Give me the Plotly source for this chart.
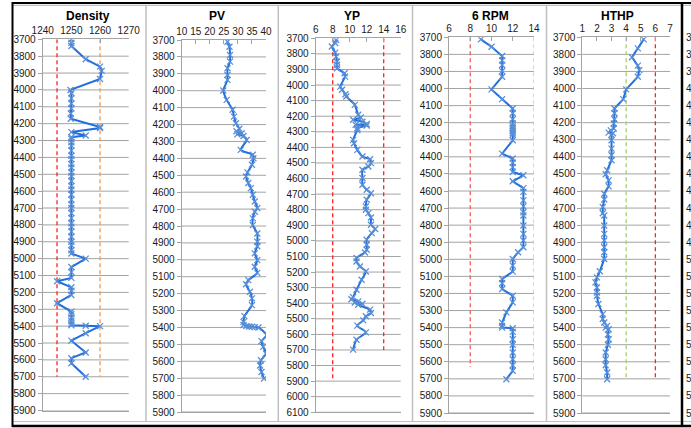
import plotly.graph_objects as go

# ---------------- data ----------------
depth_ticks_start = 3700

density_depth = [3700, 3720, 3740, 3818, 3862, 3887, 3935, 4000, 4020, 4050, 4080, 4110, 4140, 4171,
                 4220, 4226, 4250, 4270, 4280, 4290, 4310, 4330, 4360, 4390, 4410, 4440, 4460, 4490,
                 4510, 4540, 4570, 4590, 4620, 4650, 4680, 4700, 4730, 4760, 4790, 4810, 4840, 4870,
                 4900, 4920, 4950, 4970, 5000, 5050, 5080, 5114, 5134, 5170, 5190, 5215, 5264, 5314,
                 5330, 5350, 5370, 5385, 5395, 5398, 5400, 5442, 5486, 5556, 5590, 5620, 5700]
density_val = [1250, 1250, 1250, 1255, 1260, 1260.6, 1260, 1249.7, 1250, 1250, 1250, 1250, 1249.8, 1249.8,
               1260, 1260, 1250, 1255, 1250, 1250, 1250, 1250, 1250, 1250, 1250, 1250, 1250, 1250,
               1250, 1250, 1250, 1250, 1250, 1250, 1250, 1250, 1250, 1250, 1250, 1250, 1250, 1250,
               1250, 1250, 1250, 1250, 1255, 1250, 1250, 1250, 1245, 1250, 1250, 1250, 1245, 1250,
               1250, 1250, 1250, 1250, 1250, 1255, 1260, 1255, 1250, 1255, 1250, 1250, 1255]

pv_depth = [3710, 3740, 3789, 3828, 3867, 3907, 3936, 3999, 4054, 4113, 4153, 4192, 4225, 4240, 4251,
            4258, 4268, 4291, 4350, 4379, 4399, 4438, 4483, 4507, 4546, 4576, 4615, 4655, 4694, 4716,
            4755, 4795, 4844, 4893, 4920, 4962, 5002, 5041, 5077, 5120, 5144, 5189, 5228, 5268, 5333,
            5367, 5385, 5392, 5394, 5396, 5398, 5400, 5446, 5481, 5515, 5554, 5594, 5625, 5663, 5702]
pv_val = [26.3, 27, 27.2, 27.2, 26.3, 26.3, 26.3, 24.8, 26, 28.1, 28.6, 29.3, 30.5, 29.5, 31.4,
          29.8, 32, 33.1, 31, 35.3, 35.5, 35, 33.4, 32.9, 33.7, 34.6, 35.3, 36, 36.9, 36,
          35.3, 35.3, 36.9, 36.9, 36.9, 36, 36.9, 36, 36.9, 33.7, 32.9, 34.3, 35, 35, 32.3,
          32, 32, 33, 34, 35, 36, 37.3, 40.2, 38.4, 39, 40, 38.2, 37.9, 38.4, 39.3]

yp_depth = [3711, 3730, 3753, 3792, 3818, 3850, 3870, 3892, 3924, 3946, 4010, 4030, 4059, 4074, 4127,
            4191, 4208, 4223, 4235, 4249, 4255, 4260, 4277, 4288, 4352, 4373, 4416, 4459, 4476, 4501,
            4523, 4544, 4597, 4640, 4672, 4694, 4736, 4779, 4800, 4822, 4850, 4896, 4924, 4950, 4993,
            5025, 5057, 5074, 5110, 5132, 5164, 5196, 5249, 5314, 5361, 5375, 5388, 5395, 5403, 5410,
            5441, 5463, 5484, 5510, 5544, 5587, 5634, 5698]
yp_val = [8.4, 8.3, 7.9, 8.3, 8.4, 8.5, 8.5, 8.5, 9.4, 9.45, 8.9, 9.1, 9.5, 9.6, 10.6,
          11, 11.3, 10.4, 11.5, 12, 10.7, 12, 10.9, 10.9, 10.4, 10.5, 10.9, 11.5, 12.4, 12.5,
          12.2, 11.5, 11.5, 11.5, 12, 12.5, 12, 11.9, 11.9, 12.2, 12.5, 12.5, 13, 12.6, 12,
          12, 12, 11.8, 10.8, 10.8, 11.2, 11.9, 11.4, 10.8, 10.4, 10.2, 11, 10.6, 11.5, 11,
          12.4, 12.5, 11.9, 11.6, 10.9, 11.9, 10.8, 10.4]

rpm_depth = [3712, 3755, 3810, 3835, 3862, 3898, 3931, 4005, 4062, 4117, 4145, 4180, 4205, 4220, 4230,
             4240, 4250, 4260, 4270, 4303, 4381, 4410, 4435, 4460, 4489, 4508, 4543, 4583, 4605, 4655,
             4690, 4725, 4743, 4802, 4851, 4890, 4929, 4959, 4998, 5037, 5072, 5115, 5140, 5174, 5213,
             5252, 5311, 5370, 5390, 5400, 5404, 5425, 5468, 5500, 5546, 5585, 5620, 5653, 5702]
rpm_val = [9, 10, 11, 11, 11, 11, 11, 10, 11, 12, 12, 12, 12, 12, 12,
           12, 12, 12, 12, 12, 11, 12, 12, 12, 12, 13, 12, 13, 13, 13,
           13, 13, 13, 13, 13, 13, 13, 12.5, 12, 12, 12, 11, 11, 11, 12,
           12, 11.4, 11, 11, 11, 12, 12, 12, 12, 12, 12, 12, 12, 11.4]

hthp_depth = [3712, 3765, 3817, 3866, 3892, 3931, 4005, 4062, 4117, 4145, 4180, 4205, 4234, 4245, 4258,
              4262, 4270, 4303, 4352, 4391, 4420, 4479, 4502, 4538, 4573, 4616, 4650, 4694, 4730, 4743,
              4802, 4851, 4890, 4929, 4959, 4998, 5070, 5106, 5135, 5165, 5194, 5213, 5262, 5321, 5350,
              5370, 5390, 5400, 5410, 5440, 5468, 5500, 5546, 5585, 5620, 5663, 5702]
hthp_val = [5.2, 4.8, 4.4, 4.8, 4.9, 4.8, 4, 3.8, 3.2, 3.2, 3.2, 3.15, 3.15, 2.95, 2.8,
            3.1, 3, 3, 3, 3, 3, 2.7, 2.6, 2.8, 2.8, 2.5, 2.5, 2.4, 2.4, 2.5,
            2.5, 2.5, 2.5, 2.5, 2.5, 2.5, 2.2, 2, 1.9, 2, 2, 2, 2.1, 2.4, 2.4,
            2.5, 2.7, 2.6, 2.8, 2.75, 2.8, 2.75, 2.6, 2.6, 2.6, 2.7, 2.7]

# limit (reference) lines: value, end depth
density_limits = [1245, 1260]
density_limit_ends = [5700, 5700]
yp_limits = [8, 14]
yp_limit_ends = [5900, 5700]
rpm_limits = [8, 14]
rpm_limit_ends = [5630, 5700]
hthp_limits = [4, 6]
hthp_limit_ends = [5700, 5700]

titles = ["Density", "PV", "YP", "6 RPM", "HTHP"]
x_ranges = [[1240, 1270], [10, 40], [6, 16], [6, 14], [1, 7]]
x_dticks = [10, 5, 2, 2, 1]
depth_max = [5900, 5900, 6100, 5900, 5900]
# first characters of the depth labels of the next (cut-off) chart at the right edge
next_panel_ticks = [3700, 3800, 3900, 4000, 4100, 4200, 4300, 4400, 4500, 4600, 4700,
                    4800, 4900, 5000, 5100, 5200, 5300, 5400, 5500, 5600, 5700, 5800, 5900]

# ---------------- layout helpers ----------------
W, H = 691, 428
def fx(x):
    return x / W
def fy(y):
    return 1 - y / H

# pixel boxes of each plot area: (x0, x1, ytop, ybottom)
boxes = [(42.7, 128.7, 39.3, 410.5),
         (181.7, 266.0, 40.0, 412.0),
         (315.7, 400.7, 38.3, 412.3),
         (449.0, 534.0, 37.3, 413.0),
         (582.3, 670.0, 37.3, 413.0)]
title_x = [88, 217, 352, 490, 617]

LINE = "#1f6fe0"
MARK = "#5a8fd6"
GRID = "#a3a3a3"
FONT = "Liberation Sans"

fig = go.Figure()

series = [(density_val, density_depth, False),
          (pv_val, pv_depth, True),
          (yp_val, yp_depth, True),
          (rpm_val, rpm_depth, False),
          (hthp_val, hthp_depth, False)]

limits = [(density_limits, density_limit_ends, ["#ff2020", "#f79646"]),
          (None, None, None),
          (yp_limits, yp_limit_ends, ["#ff2020", "#ff2020"]),
          (rpm_limits, rpm_limit_ends, ["#f25c5c", "#b5d67c"]),
          (hthp_limits, hthp_limit_ends, ["#a8d06a", "#ff2020"])]

for i in range(5):
    ax = "" if i == 0 else str(i + 1)
    lv, le, lc = limits[i]
    if lv is not None:
        for v, e, c in zip(lv, le, lc):
            fig.add_trace(go.Scatter(x=[v, v], y=[depth_ticks_start, e], mode="lines",
                                     line=dict(color=c, width=1.3, dash="4px,3px"),
                                     xaxis="x" + ax, yaxis="y" + ax, showlegend=False,
                                     hoverinfo="skip"))
    vals, deps, smooth = series[i]
    fig.add_trace(go.Scatter(x=vals, y=deps, mode="lines+markers",
                             line=dict(color=LINE, width=2,
                                       shape="spline" if smooth else "linear",
                                       smoothing=0.7),
                             marker=dict(symbol="x-thin", size=6,
                                         line=dict(color=MARK, width=1.3), color=MARK),
                             xaxis="x" + ax, yaxis="y" + ax, showlegend=False))

layout = dict(width=W, height=H, margin=dict(l=0, r=0, t=0, b=0, pad=0, autoexpand=False),
              paper_bgcolor="white", plot_bgcolor="white", showlegend=False,
              font=dict(family=FONT, size=10, color="#1a1a1a"))

shapes = []
for i in range(5):
    ax = "" if i == 0 else str(i + 1)
    x0, x1, yt, yb = boxes[i]
    layout["xaxis" + ax] = dict(domain=[fx(x0), fx(x1)], anchor="y" + ax, side="top",
                                range=x_ranges[i], dtick=x_dticks[i], tick0=x_ranges[i][0],
                                showgrid=False, zeroline=False, showline=True, mirror=True,
                                linecolor=GRID, linewidth=1, ticks="inside", ticklen=4,
                                tickcolor=GRID, automargin=False,
                                tickfont=dict(size=10, family=FONT, color="#1a1a1a"))
    layout["yaxis" + ax] = dict(domain=[fy(yb), fy(yt)], anchor="x" + ax,
                                range=[depth_max[i], depth_ticks_start], dtick=100,
                                tick0=depth_ticks_start, showgrid=False,
                                zeroline=False, showline=True, linecolor=GRID,
                                linewidth=1, ticks="outside", ticklen=4, tickcolor=GRID,
                                automargin=False,
                                tickfont=dict(size=10, family=FONT, color="#1a1a1a"))
    # horizontal depth grid lines on the axis scale
    for d in range(depth_ticks_start + 100, depth_max[i] + 1, 100):
        shapes.append(dict(type="line", xref="x" + ax + " domain", yref="y" + ax,
                           x0=0, x1=1, y0=d, y1=d, layer="below",
                           line=dict(color=GRID, width=1)))
fig.update_layout(**layout)

# titles
for i in range(5):
    fig.add_annotation(text="<b>" + titles[i] + "</b>", x=fx(title_x[i]), y=fy(16),
                       xref="paper", yref="paper", showarrow=False, xanchor="center",
                       yanchor="middle", font=dict(size=12, family=FONT, color="black"))

# partial next-panel labels at the right edge
for d in next_panel_ticks:
    ypx = 37.3 + (d - 3700) * (413.0 - 37.3) / 2200
    fig.add_annotation(text=str(d)[0], x=fx(684), y=fy(ypx), xref="paper", yref="paper",
                       showarrow=False, xanchor="left", yanchor="middle",
                       font=dict(size=10, family=FONT, color="#1a1a1a"))

# frames / separators
for sx in [146, 278.3, 412.5, 546.5]:
    shapes.append(dict(type="line", xref="paper", yref="paper", x0=fx(sx), x1=fx(sx),
                       y0=fy(5), y1=fy(421), line=dict(color="#bfbfbf", width=1.5)))
shapes.append(dict(type="line", xref="paper", yref="paper", x0=fx(13), x1=fx(691),
                   y0=fy(5.3), y1=fy(5.3), line=dict(color="#bfbfbf", width=1.2)))
shapes.append(dict(type="line", xref="paper", yref="paper", x0=fx(13), x1=fx(691),
                   y0=fy(421.5), y1=fy(421.5), line=dict(color="#bfbfbf", width=1.2)))
shapes.append(dict(type="line", xref="paper", yref="paper", x0=fx(12), x1=fx(691),
                   y0=fy(3), y1=fy(3), line=dict(color="black", width=2)))
shapes.append(dict(type="line", xref="paper", yref="paper", x0=fx(12), x1=fx(691),
                   y0=fy(426), y1=fy(426), line=dict(color="black", width=2.5)))
shapes.append(dict(type="line", xref="paper", yref="paper", x0=fx(12.5), x1=fx(12.5),
                   y0=fy(2), y1=fy(427), line=dict(color="black", width=2)))
shapes.append(dict(type="line", xref="paper", yref="paper", x0=fx(682), x1=fx(682),
                   y0=fy(2), y1=fy(427), line=dict(color="black", width=2.5)))
fig.update_layout(shapes=shapes)

fig.write_html("out.html", config={"displayModeBar": False},
               post_script="document.body.style.margin='0';document.body.style.overflow='hidden';")
